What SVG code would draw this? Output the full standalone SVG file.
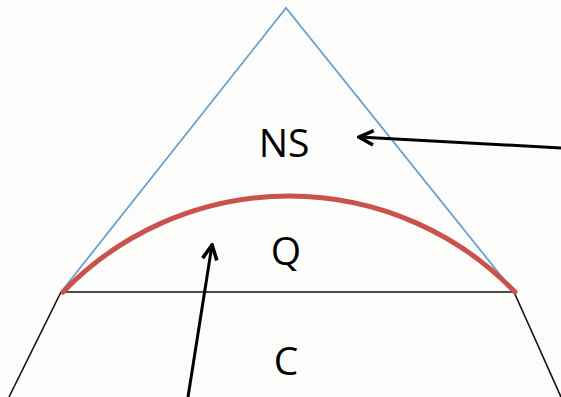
<svg xmlns="http://www.w3.org/2000/svg" width="561" height="397" viewBox="0 0 561 397">
<style>
.lbl{font-family:"Open Sans","Liberation Sans",Arial,sans-serif;font-size:39px;fill:#000;text-anchor:middle}
.blk{stroke:#111;stroke-width:1.6;fill:none}
.arr{stroke:#000;stroke-width:3;fill:none;marker-end:url(#ah)}
</style>
<defs>
<marker id="ah" viewBox="0 0 10 10" refX="9" refY="5" markerWidth="6" markerHeight="6" orient="auto" markerUnits="strokeWidth">
<path d="M1,1 L9,5 L1,9" fill="none" stroke="#000" stroke-width="2"/>
</marker>
</defs>
<rect width="561" height="397" fill="#fcfdfb"/>
<g id="triangle">
<polyline points="61,292 286,8 514,292" fill="none" stroke="#6a9fd0" stroke-width="1.8"/>
</g>
<g id="base">
<line class="blk" x1="61" y1="292" x2="514" y2="292"/>
<line class="blk" x1="61" y1="292" x2="9" y2="397"/>
<line class="blk" x1="514" y1="292" x2="561" y2="397"/>
</g>
<g id="arc">
<path d="M63,292 A314,314 0 0 1 515,292" fill="none" stroke="#c9524b" stroke-width="5" stroke-linecap="round"/>
</g>
<g id="NS"><text class="lbl" x="284" y="157">NS</text></g>
<g id="Q"><text class="lbl" x="286" y="265">Q</text></g>
<g id="C"><text class="lbl" x="286" y="375">C</text></g>
<g id="connectors">
<line class="arr" x1="561" y1="148" x2="359" y2="137"/>
<line class="arr" x1="188" y1="397" x2="212" y2="245"/>
</g>
</svg>
